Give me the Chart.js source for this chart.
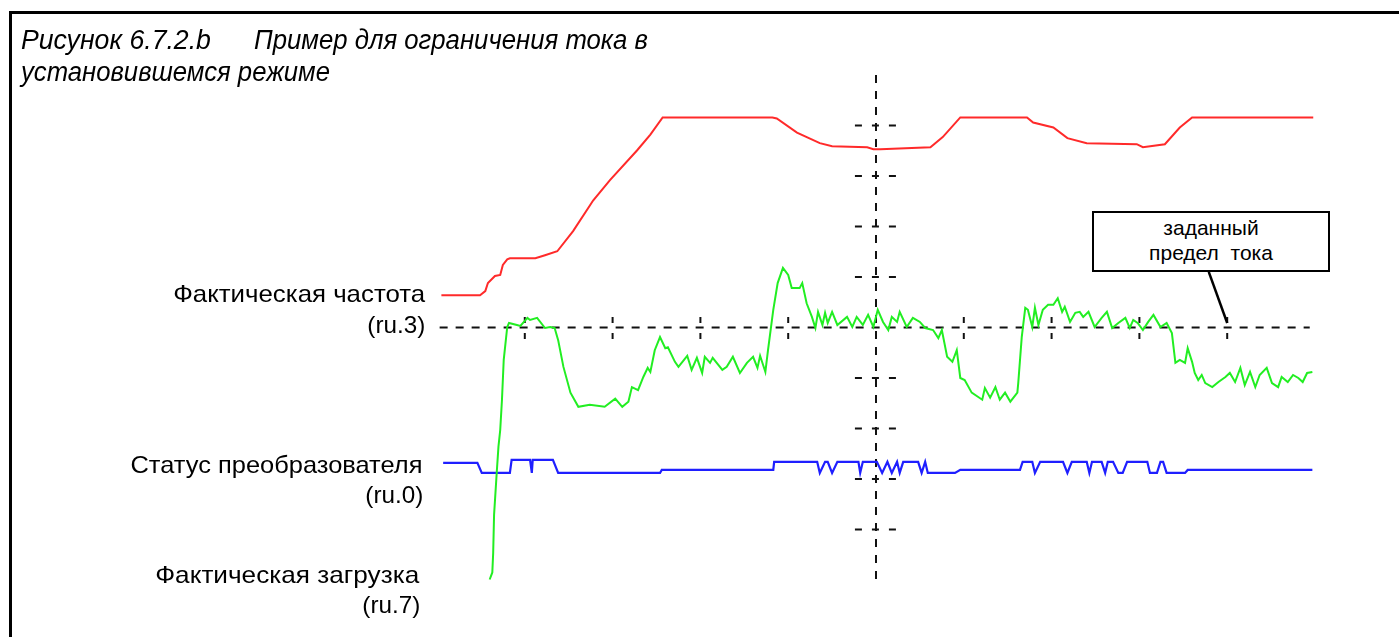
<!DOCTYPE html>
<html>
<head>
<meta charset="utf-8">
<script src="https://cdn.jsdelivr.net/npm/chart.js@4/dist/chart.umd.min.js"></script>
<style>
  body { margin: 0; background: #fff; }
  #wrap { position: relative; width: 1399px; height: 637px; overflow: hidden; }
  #scope { position: absolute; left: 0; top: 0; }
  #frame { position: absolute; left: 9px; top: 11px; width: 1400px; height: 640px;
           border-top: 3px solid #000; border-left: 3px solid #000; }
  .title { position: absolute; font-family: 'Liberation Sans', Arial, sans-serif;
           font-style: italic; font-size: 27px; line-height: 27px; white-space: pre; color: #000;
           transform-origin: left center; }
  .lbl { position: absolute; font-family: 'Liberation Sans', Arial, sans-serif; font-size: 24px;
         line-height: 24px; text-align: right; white-space: pre; color: #000; transform-origin: right center; }
  #note { position: absolute; left: 1092px; top: 211px; width: 234px; height: 55px; padding-top: 2px;
          border: 2px solid #000; background: #fff; text-align: center;
          font-family: 'Liberation Sans', Arial, sans-serif; font-size: 21px; line-height: 25px; white-space: pre; }
</style>
</head>
<body>
<div id="wrap">
  <canvas id="scope" width="1399" height="637"></canvas>
  <div id="frame"></div>
  <div id="labels"></div>
  <div id="note">заданный
предел  тока</div>
</div>
<script>
// время в делениях сетки (0..10), уровень в делениях (-5..5), 0 = заданный предел тока
const freqT = [0.05, 0.49, 0.55, 0.58, 0.66, 0.72, 0.75, 0.80, 0.83, 1.12, 1.23, 1.37, 1.55, 1.78, 1.97, 2.28, 2.43, 2.57,
  3.82, 3.87, 4.10, 4.36, 4.50, 4.90, 4.97, 5.05, 5.62, 5.76, 5.96, 6.72, 6.79, 7.02, 7.18, 7.40, 7.97, 8.04, 8.29, 8.46, 8.60, 9.98];
const freqV = [0.64, 0.64, 0.72, 0.88, 1.02, 1.04, 1.24, 1.35, 1.37, 1.37, 1.43, 1.51, 1.91, 2.52, 2.92, 3.51, 3.82, 4.16,
  4.16, 4.14, 3.86, 3.65, 3.59, 3.57, 3.53, 3.53, 3.57, 3.77, 4.16, 4.16, 4.06, 3.96, 3.75, 3.65, 3.63, 3.57, 3.63, 3.96, 4.16, 4.16];

const loadT = [0.60, 0.63, 0.64, 0.65, 0.68, 0.70, 0.72, 0.74, 0.76, 0.80, 0.82, 0.91, 0.95, 1.03, 1.06, 1.14, 1.23, 1.29, 1.34, 1.38,
  1.44, 1.52, 1.61, 1.74, 1.91, 2.03, 2.11, 2.18, 2.22, 2.29, 2.35, 2.40, 2.43, 2.48, 2.54, 2.60, 2.63, 2.71, 2.75, 2.85,
  2.90, 2.96, 3.02, 3.05, 3.11, 3.14, 3.25, 3.30, 3.37, 3.45, 3.53, 3.60, 3.65, 3.68, 3.74, 3.77, 3.83, 3.88, 3.94, 4.00,
  4.04, 4.13, 4.16, 4.21, 4.27, 4.31, 4.34, 4.39, 4.42, 4.45, 4.50, 4.56, 4.67, 4.73, 4.78, 4.85, 4.91, 4.97, 5.02, 5.08,
  5.14, 5.18, 5.24, 5.27, 5.35, 5.42, 5.50, 5.56, 5.65, 5.71, 5.75, 5.81, 5.87, 5.92, 5.96, 6.01, 6.09, 6.21, 6.24, 6.30,
  6.36, 6.41, 6.47, 6.53, 6.61, 6.62, 6.66, 6.70, 6.73, 6.78, 6.81, 6.85, 6.90, 6.96, 7.02, 7.07, 7.12, 7.15, 7.21, 7.27,
  7.32, 7.36, 7.42, 7.49, 7.57, 7.63, 7.69, 7.76, 7.84, 7.89, 7.93, 7.98, 8.04, 8.10, 8.16, 8.24, 8.31, 8.37, 8.41, 8.46,
  8.52, 8.55, 8.60, 8.63, 8.67, 8.71, 8.75, 8.83, 8.90, 8.98, 9.03, 9.09, 9.15, 9.20, 9.26, 9.32, 9.37, 9.45, 9.51, 9.58,
  9.62, 9.69, 9.75, 9.81, 9.86, 9.91, 9.97];
const loadV = [-4.99, -4.85, -4.46, -3.71, -2.88, -2.36, -2.03, -1.43, -0.64, 0.01, 0.09, 0.05, 0.03, 0.19, 0.15, 0.19, -0.01, 0.01, -0.01, -0.25,
  -0.78, -1.29, -1.57, -1.53, -1.57, -1.41, -1.57, -1.47, -1.18, -1.24, -0.98, -0.80, -0.88, -0.45, -0.19, -0.41, -0.39, -0.68, -0.78, -0.56,
  -0.84, -0.60, -0.90, -0.58, -0.70, -0.60, -0.84, -0.78, -0.58, -0.90, -0.70, -0.58, -0.80, -0.56, -0.88, -0.45, 0.35, 0.88, 1.18, 1.04,
  0.78, 0.78, 0.88, 0.48, 0.21, -0.01, 0.31, 0.05, 0.29, 0.09, 0.31, 0.05, 0.21, 0.01, 0.21, 0.05, 0.25, 0.01, 0.35, 0.11,
  -0.05, 0.21, 0.11, 0.31, 0.01, 0.19, 0.11, -0.01, -0.05, -0.21, -0.05, -0.58, -0.68, -0.45, -1.00, -1.04, -1.29, -1.43, -1.20, -1.39,
  -1.18, -1.43, -1.29, -1.47, -1.29, -1.10, -0.19, 0.39, 0.35, 0.01, 0.39, 0.05, 0.35, 0.45, 0.45, 0.58, 0.31, 0.41, 0.11, 0.29,
  0.31, 0.21, 0.31, 0.01, 0.19, 0.31, -0.01, 0.09, 0.19, -0.01, 0.15, 0.09, -0.05, 0.11, 0.25, 0.01, 0.09, -0.11, -0.70, -0.64,
  -0.70, -0.41, -0.68, -0.90, -1.04, -0.94, -1.10, -1.18, -1.08, -0.98, -0.90, -1.08, -0.80, -1.14, -0.88, -1.18, -0.94, -0.80, -1.10, -1.18,
  -0.98, -1.08, -0.94, -1.00, -1.08, -0.90, -0.88];

const statusT = [0.07, 0.46, 0.51, 0.83, 0.85, 1.06, 1.08, 1.09, 1.32, 1.38, 2.54, 2.56, 3.83, 3.84, 4.33, 4.36, 4.42, 4.45, 4.50, 4.56,
  4.80, 4.82, 4.85, 5.01, 5.07, 5.13, 5.18, 5.24, 5.27, 5.31, 5.48, 5.52, 5.56, 5.59, 5.64, 5.90, 5.96, 6.64, 6.67, 6.78,
  6.81, 6.87, 7.13, 7.18, 7.23, 7.40, 7.43, 7.46, 7.57, 7.61, 7.64, 7.70, 7.76, 7.81, 7.86, 8.09, 8.12, 8.20, 8.24, 8.27,
  8.31, 8.52, 8.55, 9.97];
const statusV = [-2.68, -2.68, -2.88, -2.88, -2.62, -2.62, -2.88, -2.62, -2.62, -2.88, -2.88, -2.82, -2.82, -2.66, -2.66, -2.88, -2.66, -2.66, -2.88, -2.66,
  -2.66, -2.88, -2.66, -2.66, -2.88, -2.66, -2.88, -2.66, -2.88, -2.66, -2.66, -2.88, -2.66, -2.88, -2.88, -2.88, -2.82, -2.82, -2.66, -2.66,
  -2.88, -2.66, -2.66, -2.88, -2.66, -2.66, -2.88, -2.66, -2.66, -2.88, -2.66, -2.66, -2.88, -2.88, -2.66, -2.66, -2.88, -2.88, -2.66, -2.66,
  -2.88, -2.88, -2.82, -2.82];

// сетка осциллографа
const limitLevel = 0;
const limitSpan = [0.03, 9.94];
const centerTime = 5;
const tickTimes = [1, 2, 3, 4, 6, 7, 8, 9];
const tickLevels = [-4, -3, -2, -1, 1, 2, 3, 4];
const leaderFrom = [8.79, 1.10];
const leaderTo = [9.0, 0.09];

// подписи: left/right = край текста, base = базовая линия, w = ширина в пикселях
const titleParts = [
  { text: 'Рисунок 6.7.2.b', left: 21, base: 50, w: 190 },
  { text: 'Пример для ограничения тока в', left: 254, base: 50, w: 394 },
  { text: 'установившемся режиме', left: 21, base: 82, w: 309 }
];
const traceLabels = [
  { text: 'Фактическая частота', right: 425, base: 302, w: 252 },
  { text: '(ru.3)', right: 425, base: 333, w: 58 },
  { text: 'Статус преобразователя', right: 422, base: 473, w: 292 },
  { text: '(ru.0)', right: 423, base: 503, w: 58 },
  { text: 'Фактическая загрузка', right: 419, base: 583, w: 264 },
  { text: '(ru.7)', right: 420, base: 613, w: 58 }
];

const zip = (t, v) => t.map((x, i) => ({ x: x, y: v[i] }));

function fitWidth(el, w) {
  const k = w / el.getBoundingClientRect().width;
  el.style.transform = 'scaleX(' + k.toFixed(3) + ')';
}

const labelBox = document.getElementById('labels');
titleParts.forEach(p => {
  const d = document.createElement('div');
  d.className = 'title';
  d.textContent = p.text;
  d.style.left = p.left + 'px';
  d.style.top = (p.base - 22.9) + 'px';
  labelBox.appendChild(d);
  fitWidth(d, p.w);
});
traceLabels.forEach(l => {
  const d = document.createElement('div');
  d.className = 'lbl';
  d.textContent = l.text;
  d.style.right = (1399 - l.right) + 'px';
  d.style.top = (l.base - 20.3) + 'px';
  labelBox.appendChild(d);
  fitWidth(d, l.w);
});

// короткие засечки: null разрывает линию между ними
const xTickPts = [];
tickTimes.forEach(t => { xTickPts.push({ x: t, y: 0.21 }, { x: t, y: -0.25 }, { x: t, y: null }); });
const yTickPts = [];
tickLevels.forEach(v => { yTickPts.push({ x: 4.76, y: v }, { x: 5.24, y: v }, { x: 5.24, y: null }); });

const gridStyle = { borderColor: '#111', borderWidth: 2, borderDash: [8, 8], pointRadius: 0, order: 10, spanGaps: false };

const ctx = document.getElementById('scope').getContext('2d');
const scopeChart = new Chart(ctx, {
  type: 'scatter',
  data: {
    datasets: [
      { label: 'Фактическая частота (ru.3)', data: zip(freqT, freqV), showLine: true,
        borderColor: '#ff2a2a', borderWidth: 2, pointRadius: 0, order: 1 },
      { label: 'Фактическая загрузка (ru.7)', data: zip(loadT, loadV), showLine: true,
        borderColor: '#22ee22', borderWidth: 2, pointRadius: 0, order: 2 },
      { label: 'Статус преобразователя (ru.0)', data: zip(statusT, statusV), showLine: true,
        borderColor: '#1f1fff', borderWidth: 2.2, pointRadius: 0, order: 3 },
      Object.assign({ data: [{ x: limitSpan[0], y: limitLevel }, { x: limitSpan[1], y: limitLevel }], showLine: true }, gridStyle),
      Object.assign({ data: [{ x: centerTime, y: 5 }, { x: centerTime, y: -5 }], showLine: true }, gridStyle),
      Object.assign({ data: xTickPts, showLine: true }, gridStyle, { borderDash: [6, 10] }),
      Object.assign({ data: yTickPts, showLine: true }, gridStyle, { borderDash: [7, 10] }),
      { data: [{ x: leaderFrom[0], y: leaderFrom[1] }, { x: leaderTo[0], y: leaderTo[1] }], showLine: true,
        borderColor: '#000', borderWidth: 2.5, pointRadius: 0, order: 0 }
    ]
  },
  options: {
    responsive: false,
    animation: false,
    devicePixelRatio: 1,
    layout: { padding: { left: 437, right: 84, top: 75, bottom: 57 } },
    scales: {
      x: { type: 'linear', min: 0, max: 10, display: false },
      y: { type: 'linear', min: -5, max: 5, display: false }
    },
    elements: { line: { tension: 0 } },
    plugins: { legend: { display: false }, tooltip: { enabled: false } }
  }
});
</script>
</body>
</html>
